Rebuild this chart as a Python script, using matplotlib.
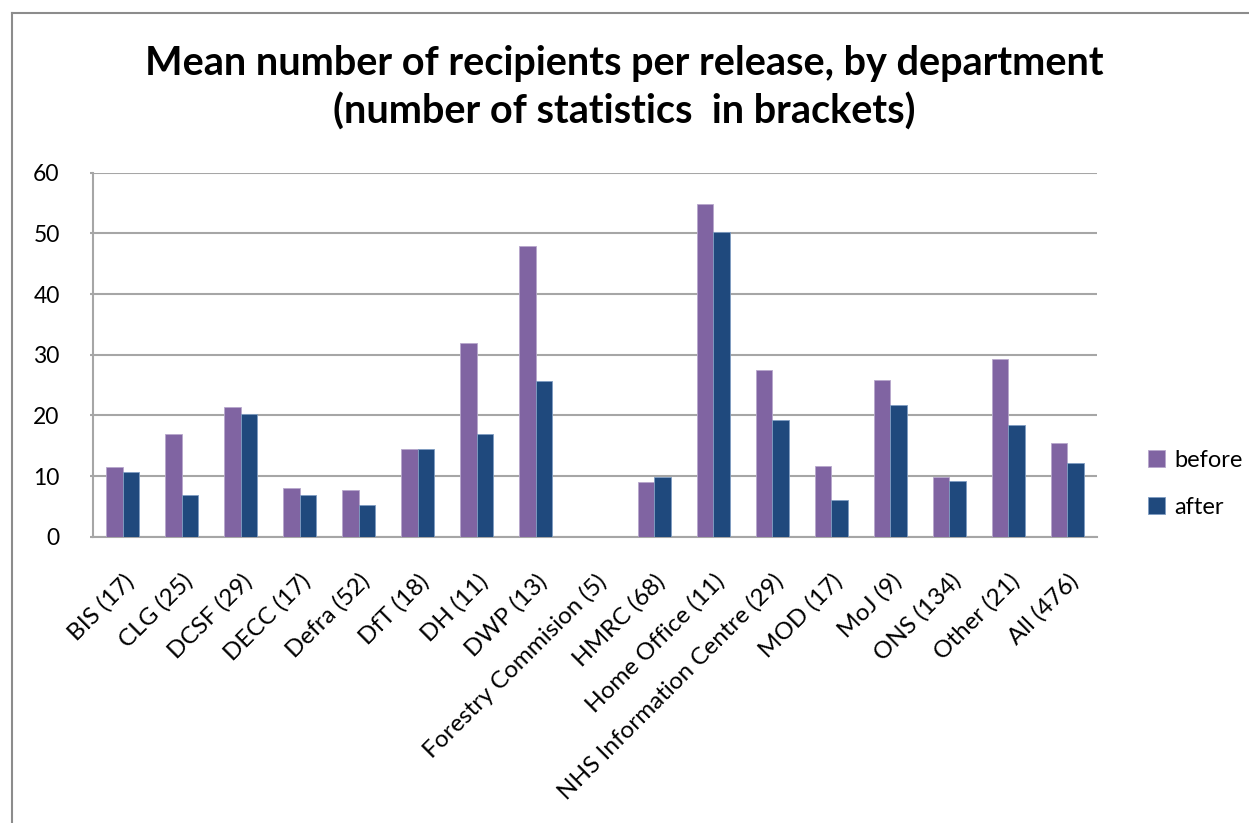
import numpy as np
import matplotlib
matplotlib.use('Agg')
import matplotlib.pyplot as plt
from matplotlib.lines import Line2D

departments = ['BIS (17)', 'CLG (25)', 'DCSF (29)', 'DECC (17)', 'Defra (52)', 'DfT (18)',
               'DH (11)', 'DWP (13)', 'Forestry Commision (5)', 'HMRC (68)', 'Home Office (11)',
               'NHS Information Centre (29)', 'MOD (17)', 'MoJ (9)', 'ONS (134)', 'Other (21)',
               'All (476)']
before = [11.5, 17.0, 21.3, 8.1, 7.7, 14.5, 31.9, 48.0, 0, 9.0, 54.9, 27.4, 11.6, 25.9, 9.8, 29.3, 15.5]
after = [10.7, 6.9, 20.2, 6.9, 5.2, 14.5, 17.0, 25.7, 0, 9.8, 50.3, 19.2, 6.0, 21.7, 9.2, 18.4, 12.2]
yticks = [0, 10, 20, 30, 40, 50, 60]

plt.rcParams['font.family'] = ['Lato', 'DejaVu Sans']

fig = plt.figure(figsize=(12.49, 8.23), dpi=100)
ax = fig.add_axes([93 / 1249, 1 - 536.7 / 823, (1097 - 93) / 1249, (536.7 - 172.7) / 823])

x = np.arange(len(departments))
w = 0.28
ax.bar(x - w / 2, before, w, color='#8064A2', edgecolor='#B7A7CC', linewidth=0.6, label='before', zorder=3)
ax.bar(x + w / 2, after, w, color='#1F497D', edgecolor='#7F9DC2', linewidth=0.6, label='after', zorder=3)

ax.set_xlim(-0.5, len(departments) - 0.5)
ax.set_ylim(0, 60)
ax.set_yticks(yticks)
ax.set_yticklabels([str(t) for t in yticks], fontsize=16.5)
ax.yaxis.grid(True, color='#A6A6A6', linewidth=1.5, zorder=0)
ax.tick_params(axis='y', length=2, color='#A6A6A6', width=1.5, pad=22)
ax.tick_params(axis='x', length=0, pad=24)
ax.set_xticks(x)
ax.set_xticklabels(departments, rotation=45, ha='right', rotation_mode='anchor', fontsize=17.5)
for s in ['top', 'right']:
    ax.spines[s].set_visible(False)
for s in ['left', 'bottom']:
    ax.spines[s].set_color('#A6A6A6')
    ax.spines[s].set_linewidth(1.5)

fig.text(0.5, 1 - 63 / 823, 'Mean number of recipients per release, by department',
         ha='center', va='center', fontsize=28.5, fontweight='bold')
fig.text(0.5, 1 - 112 / 823, '(number of statistics  in brackets)',
         ha='center', va='center', fontsize=28.5, fontweight='bold')

leg = ax.legend(loc='center left', bbox_to_anchor=(1.03, 0.145), frameon=False, fontsize=17,
                handlelength=0.7, handleheight=0.7, handletextpad=0.4, labelspacing=1.1)

# outer chart border
fig.add_artist(Line2D([12 / 1249, 12 / 1249], [0, 1 - 13 / 823], color='#8C8C8C', linewidth=1.5,
                      transform=fig.transFigure))
fig.add_artist(Line2D([12 / 1249, 1], [1 - 13 / 823, 1 - 13 / 823], color='#8C8C8C', linewidth=1.5,
                      transform=fig.transFigure))

fig.savefig('out.png', dpi=100)
